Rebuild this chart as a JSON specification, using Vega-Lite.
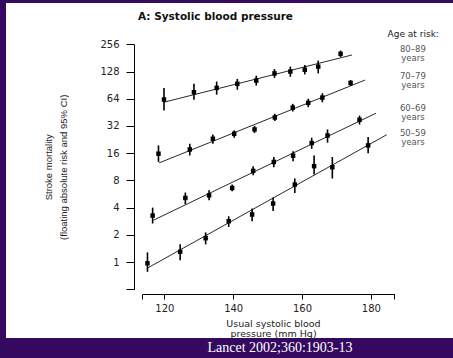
{
  "$schema": "https://vega.github.io/schema/vega-lite/v6.json",
  "width": 447,
  "height": 335,
  "autosize": {"type": "none"},
  "padding": {"left": 6, "top": 3, "right": 0, "bottom": 20},
  "background": "#35095f",
  "config": {
    "view": {"fill": "white", "stroke": null},
    "font": "DejaVu Sans"
  },
  "title": {
    "text": "A: Systolic blood pressure",
    "anchor": "middle",
    "frame": "group",
    "dx": -14,
    "offset": -24,
    "baseline": "middle",
    "font": "DejaVu Sans",
    "fontSize": 10.5,
    "fontWeight": "bold",
    "color": "#111111"
  },
  "datasets": {
    "points": [
      {"age": "50–59", "bp": 115.1, "risk": 0.97, "lo": 0.78, "hi": 1.28},
      {"age": "50–59", "bp": 124.6, "risk": 1.30, "lo": 1.05, "hi": 1.57},
      {"age": "50–59", "bp": 132.0, "risk": 1.84, "lo": 1.57, "hi": 2.13},
      {"age": "50–59", "bp": 138.7, "risk": 2.83, "lo": 2.45, "hi": 3.21},
      {"age": "50–59", "bp": 145.5, "risk": 3.36, "lo": 2.83, "hi": 3.91},
      {"age": "50–59", "bp": 151.6, "risk": 4.44, "lo": 3.68, "hi": 5.17},
      {"age": "50–59", "bp": 157.9, "risk": 7.2, "lo": 5.8, "hi": 8.4},
      {"age": "50–59", "bp": 163.5, "risk": 11.5, "lo": 9.3, "hi": 15.1},
      {"age": "50–59", "bp": 168.8, "risk": 11.2, "lo": 8.4, "hi": 14.5},
      {"age": "50–59", "bp": 179.2, "risk": 19.5, "lo": 16.0, "hi": 24.1},
      {"age": "60–69", "bp": 116.6, "risk": 3.27, "lo": 2.67, "hi": 4.0},
      {"age": "60–69", "bp": 126.1, "risk": 5.12, "lo": 4.36, "hi": 5.87},
      {"age": "60–69", "bp": 133.0, "risk": 5.47, "lo": 4.83, "hi": 6.22},
      {"age": "60–69", "bp": 139.7, "risk": 6.6, "lo": 6.06, "hi": 7.2},
      {"age": "60–69", "bp": 145.8, "risk": 10.2, "lo": 9.1, "hi": 11.5},
      {"age": "60–69", "bp": 151.8, "risk": 12.8, "lo": 11.2, "hi": 14.5},
      {"age": "60–69", "bp": 157.4, "risk": 15.0, "lo": 13.0, "hi": 16.8},
      {"age": "60–69", "bp": 162.8, "risk": 20.7, "lo": 17.9, "hi": 23.7},
      {"age": "60–69", "bp": 167.4, "risk": 25.1, "lo": 20.9, "hi": 29.3},
      {"age": "60–69", "bp": 176.7, "risk": 37.5, "lo": 33.2, "hi": 41.7},
      {"age": "70–79", "bp": 118.3, "risk": 15.8, "lo": 12.8, "hi": 19.5},
      {"age": "70–79", "bp": 127.4, "risk": 17.6, "lo": 15.1, "hi": 20.4},
      {"age": "70–79", "bp": 134.1, "risk": 23.1, "lo": 20.4, "hi": 25.8},
      {"age": "70–79", "bp": 140.3, "risk": 26.2, "lo": 23.7, "hi": 28.6},
      {"age": "70–79", "bp": 146.2, "risk": 29.3, "lo": 26.7, "hi": 32.1},
      {"age": "70–79", "bp": 152.1, "risk": 39.7, "lo": 36.2, "hi": 43.6},
      {"age": "70–79", "bp": 157.3, "risk": 51.1, "lo": 46.3, "hi": 56.2},
      {"age": "70–79", "bp": 161.8, "risk": 57.7, "lo": 51.6, "hi": 64},
      {"age": "70–79", "bp": 165.9, "risk": 65.9, "lo": 58.5, "hi": 73.5},
      {"age": "70–79", "bp": 174.1, "risk": 95.7, "lo": 88.7, "hi": 103},
      {"age": "80–89", "bp": 119.9, "risk": 62.7, "lo": 47.5, "hi": 84.4},
      {"age": "80–89", "bp": 128.6, "risk": 75.6, "lo": 62.2, "hi": 93.7},
      {"age": "80–89", "bp": 135.2, "risk": 84.4, "lo": 71, "hi": 99.1},
      {"age": "80–89", "bp": 141.2, "risk": 93.7, "lo": 80.5, "hi": 106},
      {"age": "80–89", "bp": 146.7, "risk": 101.7, "lo": 89.5, "hi": 115},
      {"age": "80–89", "bp": 152.0, "risk": 122, "lo": 109, "hi": 136},
      {"age": "80–89", "bp": 156.6, "risk": 128, "lo": 112, "hi": 145},
      {"age": "80–89", "bp": 160.8, "risk": 134, "lo": 119, "hi": 151},
      {"age": "80–89", "bp": 164.7, "risk": 145, "lo": 122, "hi": 169},
      {"age": "80–89", "bp": 171.2, "risk": 201, "lo": 185, "hi": 218}
    ],
    "fits": [
      {"age": "50–59", "bp": 114.9, "risk": 0.85},
      {"age": "50–59", "bp": 184.6, "risk": 25.6},
      {"age": "60–69", "bp": 116.8, "risk": 2.9},
      {"age": "60–69", "bp": 181.5, "risk": 44.3},
      {"age": "70–79", "bp": 118.5, "risk": 12.5},
      {"age": "70–79", "bp": 178.3, "risk": 103},
      {"age": "80–89", "bp": 119.8, "risk": 58.5},
      {"age": "80–89", "bp": 174.5, "risk": 195}
    ],
    "ageLabels": [
      {"label": "80–89\nyears", "bp": 192.2, "risk": 253},
      {"label": "70–79\nyears", "bp": 192.2, "risk": 125.5},
      {"label": "60–69\nyears", "bp": 192.2, "risk": 56.2},
      {"label": "50–59\nyears", "bp": 192.2, "risk": 29.8}
    ],
    "header": [
      {"label": "Age at risk:", "bp": 192.3, "risk": 368}
    ],
    "source": [
      {"label": "Lancet 2002;360:1903-13", "bp": 153.6, "risk": 0.1126}
    ]
  },
  "layer": [
    {
      "data": {"name": "fits"},
      "mark": {"type": "line", "color": "#111111", "strokeWidth": 0.9},
      "encoding": {
        "x": {"field": "bp", "type": "quantitative"},
        "y": {"field": "risk", "type": "quantitative"},
        "detail": {"field": "age"}
      }
    },
    {
      "data": {"name": "points"},
      "mark": {"type": "rule", "color": "#000000", "strokeWidth": 1.6},
      "encoding": {
        "x": {"field": "bp", "type": "quantitative"},
        "y": {"field": "lo", "type": "quantitative"},
        "y2": {"field": "hi"}
      }
    },
    {
      "data": {"name": "points"},
      "mark": {"type": "point", "shape": "square", "filled": true, "color": "#000000", "size": 20, "opacity": 1},
      "encoding": {
        "x": {
          "field": "bp",
          "type": "quantitative",
          "scale": {"domain": [113.6, 186.8], "range": [136.3, 388.3], "nice": false, "zero": false},
          "axis": {
            "values": [113.6, 120, 140, 160, 180, 186.8],
            "labelExpr": "datum.value == 113.6 || datum.value == 186.8 ? '' : datum.label",
            "offset": -44,
            "grid": false,
            "domainColor": "#000000",
            "tickColor": "#000000",
            "tickSize": 5,
            "labelPadding": 4,
            "labelFont": "DejaVu Sans",
            "labelFontSize": 10,
            "labelColor": "#222222",
            "title": ["Usual systolic blood", "pressure (mm Hg)"],
            "titleFont": "DejaVu Sans",
            "titleFontSize": 9.5,
            "titleFontWeight": "normal",
            "titleColor": "#222222",
            "titleLineHeight": 10.5,
            "titlePadding": 5,
            "titleX": 267
          }
        },
        "y": {
          "field": "risk",
          "type": "quantitative",
          "scale": {"type": "log", "base": 2, "domain": [0.5, 256], "range": [286.3, 41.3], "nice": false},
          "axis": {
            "values": [0.5, 1, 2, 4, 8, 16, 32, 64, 128, 256],
            "labelExpr": "datum.value < 1 ? '' : format(datum.value, 'd')",
            "offset": -128,
            "grid": false,
            "domainColor": "#000000",
            "tickColor": "#000000",
            "tickSize": 8,
            "labelPadding": 7,
            "labelFont": "DejaVu Sans",
            "labelFontSize": 10,
            "labelColor": "#222222",
            "title": ["Stroke mortality", "(floating absolute risk and 95% CI)"],
            "titleFont": "Liberation Sans",
            "titleFontSize": 9.5,
            "titleFontWeight": "normal",
            "titleColor": "#222222",
            "titleLineHeight": 15,
            "titlePadding": 31
          }
        }
      }
    },
    {
      "data": {"name": "ageLabels"},
      "mark": {"type": "text", "align": "center", "baseline": "top", "lineBreak": "\n", "lineHeight": 9, "font": "DejaVu Sans", "fontSize": 8.5, "color": "#555555"},
      "encoding": {
        "x": {"field": "bp", "type": "quantitative"},
        "y": {"field": "risk", "type": "quantitative"},
        "text": {"field": "label"}
      }
    },
    {
      "data": {"name": "header"},
      "mark": {"type": "text", "align": "center", "baseline": "top", "font": "DejaVu Sans", "fontSize": 9, "color": "#222222"},
      "encoding": {
        "x": {"field": "bp", "type": "quantitative"},
        "y": {"field": "risk", "type": "quantitative"},
        "text": {"field": "label"}
      }
    },
    {
      "data": {"name": "source"},
      "mark": {"type": "text", "align": "center", "baseline": "middle", "font": "Liberation Serif", "fontSize": 14, "color": "#ffffff"},
      "encoding": {
        "x": {"field": "bp", "type": "quantitative"},
        "y": {"field": "risk", "type": "quantitative"},
        "text": {"field": "label"}
      }
    }
  ]
}
